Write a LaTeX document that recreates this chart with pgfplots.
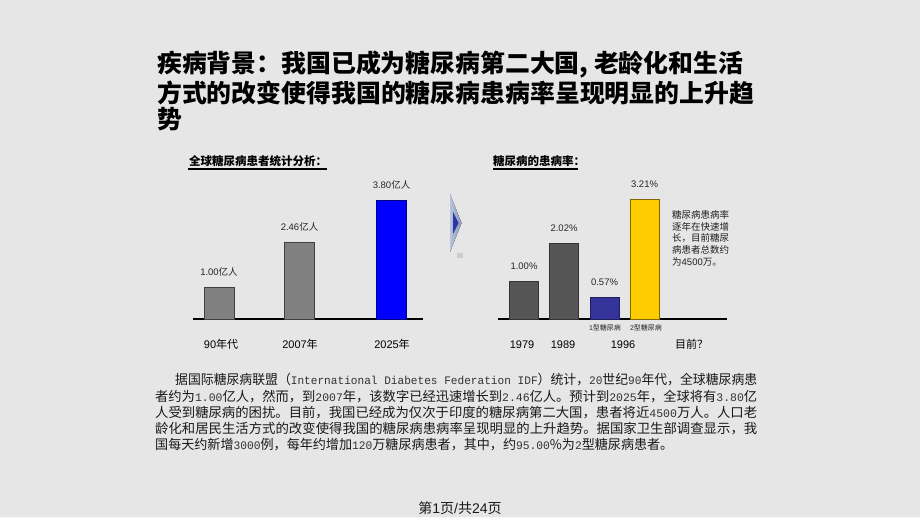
\documentclass[border=0pt]{standalone}
\usepackage{fontspec}
\setmainfont{Liberation Sans}
\newfontfamily\cjk{Noto Sans CJK SC}
\newfontfamily\mono{Liberation Mono}
\usepackage{graphicx}
\usepackage{pgfplots}
\pgfplotsset{compat=1.18}
\definecolor{bg}{HTML}{E6E6E6}
\definecolor{gbar}{HTML}{808080}
\definecolor{dgbar}{HTML}{555555}
\definecolor{navybar}{HTML}{333399}
\definecolor{yelbar}{HTML}{FFCC00}
\definecolor{arrowlight}{HTML}{A3B6D3}
\definecolor{arrowdark}{HTML}{3333A8}
\newcommand\fs[1]{\fontsize{#1bp}{#1bp}\selectfont}
\newcommand\m[1]{{\mono\fs{11.5}\color{black!80}#1}}
\newcommand\bl[4]{\node[anchor=west,inner sep=0] at (#1,#2) {\resizebox{#3bp}{\height}{\color{black!90}\cjk\fs{13.3}#4}};}
\begin{document}
\begin{tikzpicture}[x=1bp,y=1bp]
\useasboundingbox (0,0) rectangle (920,518);
\fill[bg] (0,0) rectangle (920,518);
\fill[white!70!bg] (0,0) rectangle (920,1.2);

% main title
\node[anchor=west,inner sep=0] at (157,453) {\resizebox{586bp}{\height}{\cjk\bfseries\fs{24.8}疾病背景：我国已成为糖尿病第二大国, 老龄化和生活}};
\node[anchor=west,inner sep=0] at (157,425) {\resizebox{597bp}{\height}{\cjk\bfseries\fs{24.8}方式的改变使得我国的糖尿病患病率呈现明显的上升趋}};
\node[anchor=west,inner sep=0] at (157,399) {\cjk\bfseries\fs{24.8}势};

% sub titles
\node[anchor=west,inner sep=0] at (189,357) {\cjk\bfseries\fs{11.5}全球糖尿病患者统计分析：};
\draw[line width=1.3bp] (188,349) -- (327,349);
\node[anchor=west,inner sep=0] at (493,357) {\cjk\bfseries\fs{11.5}糖尿病的患病率：};
\draw[line width=1.3bp] (493,349) -- (578,349);

% left chart
\begin{axis}[at={(193bp,199bp)}, anchor=south west, scale only axis,
  width=230bp, height=140.4bp, xmin=193, xmax=423, ymin=0, ymax=4.5,
  axis y line=none, axis x line*=bottom, ytick=\empty,
  x axis line style={-, line width=1.6bp},
  xtick={221,300,392}, xticklabels={90{\cjk 年代},2007{\cjk 年},2025{\cjk 年}},
  xtick style={draw=none},
  xticklabel style={anchor=center, yshift=-21bp, font=\fs{11}},
  clip=false, ybar, point meta=explicit symbolic,
  nodes near coords={\pgfplotspointmeta{\cjk 亿人}},
  every node near coord/.append style={anchor=center, yshift=15.5bp, font=\fs{9.5}, text=black!85}]
\addplot[ybar, bar shift=0pt, bar width=30bp, fill=gbar, draw=black!75, line width=0.6bp]
  coordinates {(219,1.00) [1.00] (299.5,2.46) [2.46]};
\addplot[ybar, bar shift=0pt, bar width=30bp, fill=blue, draw=blue!50!black, line width=0.6bp]
  coordinates {(391.5,3.80) [3.80]};
\end{axis}

% right chart
\begin{axis}[at={(498bp,199bp)}, anchor=south west, scale only axis,
  width=229bp, height=149.2bp, xmin=498, xmax=727, ymin=0, ymax=4,
  axis y line=none, axis x line*=bottom, ytick=\empty,
  x axis line style={-, line width=1.6bp},
  xtick={522,563,623,691.5}, xticklabels={1979,1989,1996,{\cjk 目前？}},
  xtick style={draw=none},
  xticklabel style={anchor=center, yshift=-21bp, font=\fs{11}},
  clip=false, ybar, point meta=explicit symbolic,
  nodes near coords={\pgfplotspointmeta\%},
  every node near coord/.append style={anchor=center, yshift=15.5bp, font=\fs{9.5}, text=black!85}]
\addplot[ybar, bar shift=0pt, bar width=29bp, fill=dgbar, draw=black!80, line width=0.6bp]
  coordinates {(524,1.00) [1.00] (564,2.02) [2.02]};
\addplot[ybar, bar shift=0pt, bar width=29bp, fill=navybar, draw=navybar!60!black, line width=0.6bp]
  coordinates {(604.5,0.57) [0.57]};
\addplot[ybar, bar shift=0pt, bar width=29bp, fill=yelbar, draw=yelbar!50!black, line width=0.6bp]
  coordinates {(644.5,3.21) [3.21]};
\node[font=\fs{7}, text=black!85] at (axis cs:605,0) [yshift=-9bp] {1{\cjk 型糖尿病}};
\node[font=\fs{7}, text=black!85] at (axis cs:646,0) [yshift=-9bp] {2{\cjk 型糖尿病}};
\end{axis}

% annotation
\begin{scope}[every node/.style={anchor=west, inner sep=0, font=\fs{9.5}, text=black!88}]
\node at (672,303) {\cjk 糖尿病患病率};
\node at (672,291) {\cjk 逐年在快速增};
\node at (672,280) {\cjk 长，目前糖尿};
\node at (672,268) {\cjk 病患者总数约};
\node at (672,256) {{\cjk 为}4500{\cjk 万。}};
\end{scope}

% arrow
\fill[left color=arrowlight!80!white, right color=arrowlight!85!black] (450,324) -- (461.5,295) -- (450,266) -- cycle;
\fill[arrowdark] (453,306) -- (458.5,295) -- (453,284) -- cycle;
\fill[black!20] (456.7,259.7) rectangle (462.7,265.3);

% body text
\bl{175}{138}{582}{据国际糖尿病联盟（\m{ International Diabetes Federation IDF}）统计，\m{20}世纪\m{90}年代，全球糖尿病患}
\bl{155}{121.8}{602}{者约为\m{1.00}亿人，然而，到\m{2007}年，该数字已经迅速增长到\m{2.46}亿人。预计到\m{2025}年，全球将有\m{3.80}亿}
\bl{155}{105.6}{602}{人受到糖尿病的困扰。目前，我国已经成为仅次于印度的糖尿病第二大国，患者将近\m{4500}万人。人口老}
\bl{155}{89.4}{602}{龄化和居民生活方式的改变使得我国的糖尿病患病率呈现明显的上升趋势。据国家卫生部调查显示，我}
\bl{155}{73.2}{518}{国每天约新增\m{3000}例，每年约增加\m{120}万糖尿病患者，其中，约\m{95.00}\%为\m{2}型糖尿病患者。}

% footer
\node[inner sep=0, font=\fs{14}, text=black!90] at (460,10) {{\cjk 第}1{\cjk 页}/{\cjk 共}24{\cjk 页}};
\end{tikzpicture}
\end{document}
